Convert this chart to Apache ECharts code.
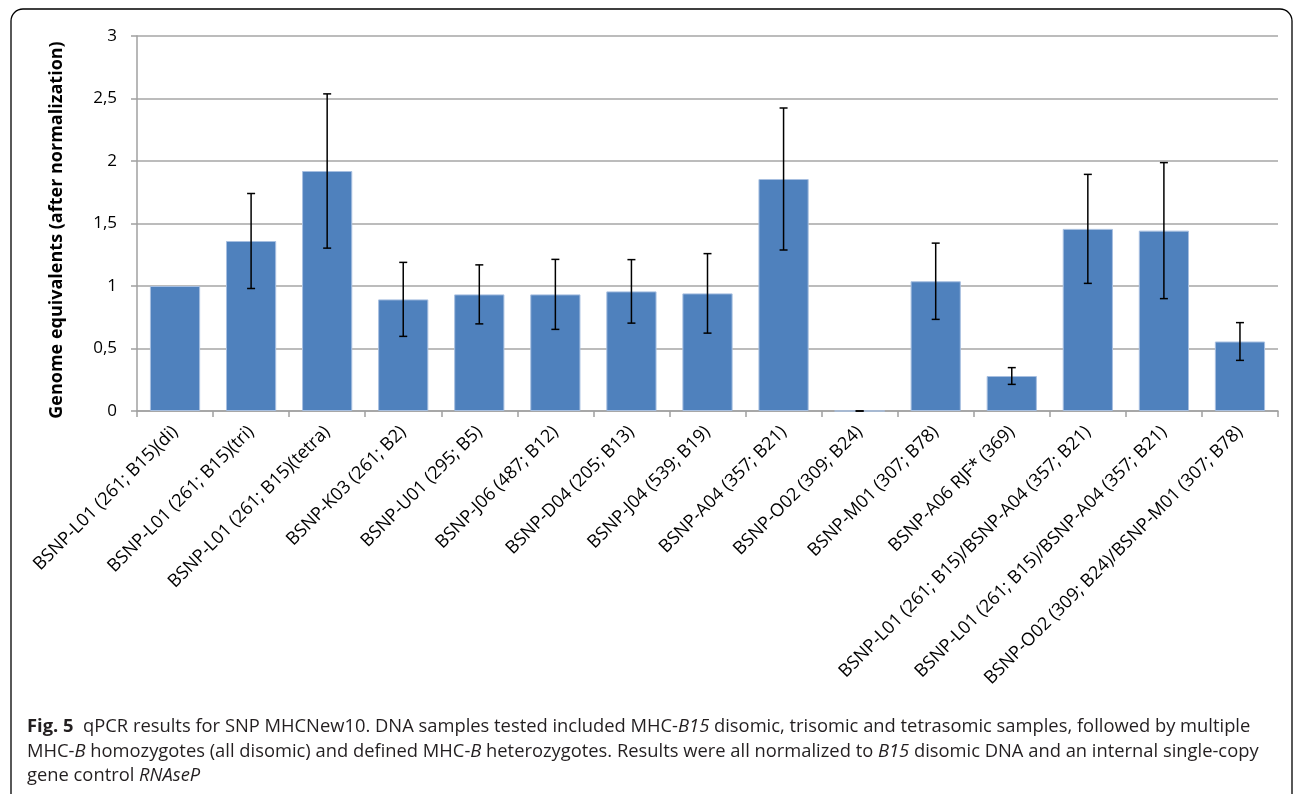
<!DOCTYPE html>
<html>
<head>
<meta charset="utf-8">
<script src="https://cdn.jsdelivr.net/npm/echarts@6/dist/echarts.min.js"></script>
<style>
  html, body { margin: 0; padding: 0; background: #fff; }
  #chart { width: 1295px; height: 794px; }
</style>
</head>
<body>
<div id="chart"></div>
<script>
// Sample names (MHC-B haplotypes)
const categories = [
  'BSNP-L01 (261; B15)(di)',
  'BSNP-L01 (261; B15)(tri)',
  'BSNP-L01 (261; B15)(tetra)',
  'BSNP-K03 (261; B2)',
  'BSNP-U01 (295; B5)',
  'BSNP-J06 (487; B12)',
  'BSNP-D04 (205; B13)',
  'BSNP-J04 (539; B19)',
  'BSNP-A04 (357; B21)',
  'BSNP-O02 (309; B24)',
  'BSNP-M01 (307; B78)',
  'BSNP-A06 RJF* (369)',
  'BSNP-L01 (261; B15)/BSNP-A04 (357; B21)',
  'BSNP-L01 (261; B15)/BSNP-A04 (357; B21)',
  'BSNP-O02 (309; B24)/BSNP-M01 (307; B78)'
];

// Genome equivalents after normalization
const values = [1.00, 1.36, 1.92, 0.893, 0.933, 0.933, 0.957, 0.941, 1.856, 0.0, 1.038, 0.28, 1.457, 1.443, 0.556];

// Error bar half-widths (null = no error bar)
const errors = [null, 0.38, 0.617, 0.296, 0.236, 0.28, 0.254, 0.318, 0.568, 0.0, 0.305, 0.067, 0.436, 0.544, 0.151];

// Y axis ticks
const yTicks = [0, 0.5, 1, 1.5, 2, 2.5, 3];

const yTitle = 'Genome equivalents (after normalization)';

const FONT = '"Open Sans", "DejaVu Sans", sans-serif';
const CAP = 18.35;

const errData = values.map((v, i) => errors[i] === null ? null : [i, v - errors[i], v + errors[i]]);

const chart = echarts.init(document.getElementById('chart'), null, { renderer: 'canvas' });

const capStyle = (extra) => Object.assign({ fontFamily: FONT, fontSize: CAP, fill: '#231f20' }, extra || {});

chart.setOption({
  animation: false,
  backgroundColor: '#ffffff',
  grid: { left: 137, top: 36, right: 17, bottom: 383, containLabel: false },
  xAxis: {
    type: 'category',
    data: categories,
    boundaryGap: true,
    axisLine: { show: true, lineStyle: { color: '#a0a0a0', width: 1.5 } },
    axisTick: { show: true, alignWithLabel: false, length: 6, lineStyle: { color: '#a0a0a0', width: 1.5 } },
    axisLabel: {
      interval: 0,
      rotate: 45,
      margin: 18,
      color: '#000',
      fontFamily: FONT,
      fontSize: 18
    },
    splitLine: { show: false }
  },
  yAxis: {
    type: 'value',
    min: yTicks[0],
    max: yTicks[yTicks.length - 1],
    interval: 0.5,
    axisLine: { show: true, lineStyle: { color: '#a0a0a0', width: 1.5 } },
    axisTick: { show: true, inside: false, length: 6, lineStyle: { color: '#a0a0a0', width: 1.5 } },
    axisLabel: {
      margin: 20,
      color: '#000',
      fontFamily: FONT,
      fontSize: 17,
      formatter: v => String(v).replace('.', ',')
    },
    splitLine: { show: true, lineStyle: { color: '#a6a6a6', width: 1.5 } }
  },
  series: [
    {
      type: 'bar',
      data: values,
      barWidth: '66%',
      itemStyle: { color: '#4f81bd', borderColor: '#a7bfe0', borderWidth: 1 },
      z: 2
    },
    {
      type: 'custom',
      z: 3,
      data: errData.filter(d => d !== null),
      renderItem: function (params, api) {
        const x = api.coord([api.value(0), 0])[0];
        const lo = api.coord([api.value(0), api.value(1)])[1];
        const hi = api.coord([api.value(0), api.value(2)])[1];
        const cap = 4;
        const style = { stroke: '#000', lineWidth: 1.5 };
        return {
          type: 'group',
          children: [
            { type: 'line', shape: { x1: x, y1: hi, x2: x, y2: lo }, style },
            { type: 'line', shape: { x1: x - cap, y1: hi, x2: x + cap, y2: hi }, style },
            { type: 'line', shape: { x1: x - cap, y1: lo, x2: x + cap, y2: lo }, style }
          ]
        };
      }
    }
  ],
  graphic: [
    {
      type: 'rect',
      x: 11, y: 9,
      shape: { x: 0, y: 0, width: 1281, height: 900, r: 12 },
      style: { fill: 'none', stroke: '#000', lineWidth: 1.3 },
      silent: true
    },
    {
      // rotated y-axis title
      type: 'text', x: 57, y: 230, rotation: Math.PI / 2,
      style: {
        text: yTitle,
        fontFamily: FONT, fontSize: 18, fontWeight: 'bold', fill: '#000',
        align: 'center', verticalAlign: 'middle'
      }
    },
    {
      type: 'text', x: 27, y: 727,
      style: capStyle({
        text: '{b|Fig. 5}  qPCR results for SNP MHCNew10. DNA samples tested included MHC-{i|B15} disomic, trisomic and tetrasomic samples, followed by multiple',
        verticalAlign: 'middle',
        rich: {
          b: capStyle({ fontWeight: 'bold' }),
          i: capStyle({ fontStyle: 'italic' })
        }
      })
    },
    {
      type: 'text', x: 27, y: 752,
      style: capStyle({
        text: 'MHC-{i|B} homozygotes (all disomic) and defined MHC-{i|B} heterozygotes. Results were all normalized to {i|B15} disomic DNA and an internal single-copy',
        verticalAlign: 'middle',
        rich: { i: capStyle({ fontStyle: 'italic' }) }
      })
    },
    {
      type: 'text', x: 27, y: 776,
      style: capStyle({
        text: 'gene control {i|RNAseP}',
        verticalAlign: 'middle',
        rich: { i: capStyle({ fontStyle: 'italic' }) }
      })
    }
  ]
});
</script>
</body>
</html>
